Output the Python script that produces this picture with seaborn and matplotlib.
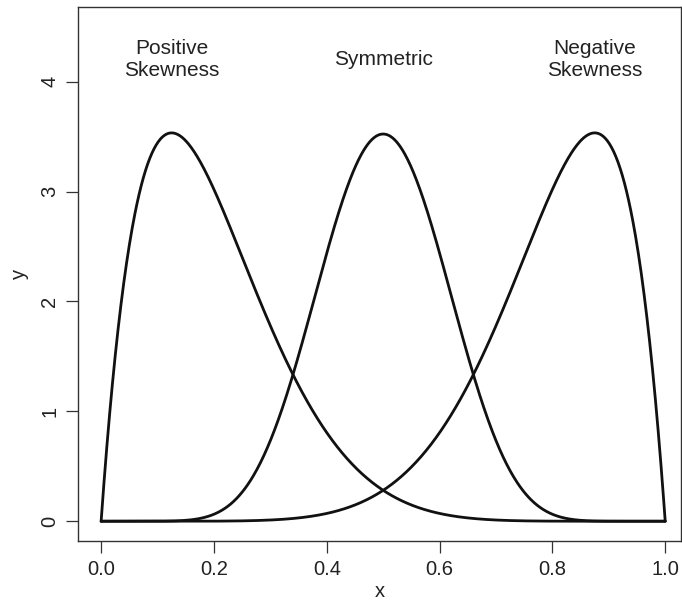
import math
import numpy as np
import pandas as pd
import matplotlib
matplotlib.use("Agg")
import matplotlib.pyplot as plt
import seaborn as sns

# Beta distribution shape parameters for the three curves
curve_names = ["Positive\nSkewness", "Symmetric", "Negative\nSkewness"]
shape_a = [2, 10, 8]
shape_b = [8, 10, 2]
label_x = [0.125, 0.5, 0.875]
label_y = [4.2, 4.2, 4.2]

x_ticks = [0.0, 0.2, 0.4, 0.6, 0.8, 1.0]
y_ticks = [0, 1, 2, 3, 4]


def beta_pdf(x, a, b):
    norm = math.gamma(a + b) / (math.gamma(a) * math.gamma(b))
    return norm * x ** (a - 1) * (1 - x) ** (b - 1)


grid = np.linspace(0.0, 1.0, 801)
frames = []
for name, a, b in zip(curve_names, shape_a, shape_b):
    frames.append(pd.DataFrame({"x": grid, "y": beta_pdf(grid, a, b), "curve": name}))
df = pd.concat(frames, ignore_index=True)

sns.set_style("ticks")
plt.rcParams["font.family"] = ["Liberation Sans", "DejaVu Sans"]

fig = plt.figure(figsize=(6.82, 6.06), dpi=100)
ax = fig.add_axes([78 / 682, 1 - 541 / 606, (681 - 78) / 682, (541 - 7) / 606])

sns.lineplot(data=df, x="x", y="y", units="curve", estimator=None,
             color="#111111", linewidth=2.0, ax=ax, legend=False)

for txt, tx, ty in zip(curve_names, label_x, label_y):
    ax.text(tx, ty, txt, ha="center", va="center", fontsize=15,
            color="#222222", linespacing=1.2)

ax.set_xlim(-0.041, 1.028)
ax.set_ylim(-0.18, 4.68)
ax.set_xticks(x_ticks)
ax.set_xticklabels([f"{v:.1f}" for v in x_ticks])
ax.set_yticks(y_ticks)
ax.set_yticklabels([str(v) for v in y_ticks], rotation=90, va="center")
ax.tick_params(axis="both", direction="out", length=8.5, width=0.9,
               color="#333333", labelsize=14.5, labelcolor="#222222", pad=5)
ax.set_xlabel("x", fontsize=14.5, color="#222222", labelpad=2)
ax.set_ylabel("y", fontsize=14.5, color="#222222", labelpad=8)
for sp in ax.spines.values():
    sp.set_visible(True)
    sp.set_linewidth(1.0)
    sp.set_color("#333333")

fig.savefig("out.png", dpi=100, facecolor="white")
